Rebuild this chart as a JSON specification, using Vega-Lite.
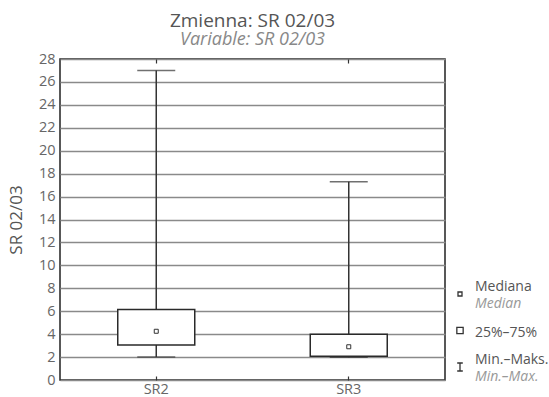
{
  "$schema": "https://vega.github.io/schema/vega-lite/v6.json",
  "padding": {"left": 6, "top": 11, "right": 0, "bottom": 0},
  "background": "white",
  "config": {"font": "Open Sans", "view": {"stroke": null}},
  "bounds": "flush",
  "spacing": 0,
  "datasets": {
    "stats": [
      {"group": "SR2", "min": 2.0, "q1": 3.05, "median": 4.25, "q3": 6.15, "max": 27.0},
      {"group": "SR3", "min": 1.98, "q1": 2.08, "median": 2.9, "q3": 4.0, "max": 17.3}
    ],
    "legend": [
      {"key": "median", "label": "Mediana", "sub": "Median"},
      {"key": "box", "label": "25%–75%", "sub": ""},
      {"key": "range", "label": "Min.–Maks.", "sub": "Min.–Max."}
    ]
  },
  "hconcat": [
    {
      "width": 385,
      "height": 321,
      "view": {"stroke": "#222", "strokeWidth": 1.5},
      "title": {
        "text": "Zmienna: SR 02/03",
        "subtitle": "Variable: SR 02/03",
        "anchor": "middle",
        "font": "Open Sans",
        "fontSize": 19,
        "fontWeight": "normal",
        "color": "#555",
        "subtitleFont": "Open Sans",
        "subtitleFontSize": 18,
        "subtitleFontStyle": "italic",
        "subtitleColor": "#888",
        "subtitlePadding": 0,
        "offset": 2
      },
      "data": {"name": "stats"},
      "resolve": {"axis": {"x": "independent"}},
      "layer": [
        {
          "mark": {"type": "rule", "stroke": "#333", "strokeWidth": 1.5},
          "encoding": {
            "x": {"field": "group", "type": "nominal", "scale": {"paddingInner": 0, "paddingOuter": 0}, "axis": {"orient": "bottom", "title": null, "labelAngle": 0, "labelFontSize": 14.5, "labelColor": "#666", "domain": false, "tickSize": -4, "tickColor": "#333", "tickWidth": 1.2, "labelPadding": 6}},
            "y": {"field": "min", "type": "quantitative", "scale": {"domain": [0, 28], "nice": false}, "axis": {"values": [0, 2, 4, 6, 8, 10, 12, 14, 16, 18, 20, 22, 24, 26, 28], "tickCount": 40, "format": "d", "labelOverlap": false, "title": "SR 02/03", "titleFontSize": 17, "titleFontWeight": "normal", "titleColor": "#555", "titlePadding": 13, "labelFontSize": 14.5, "labelColor": "#666", "labelPadding": 5, "ticks": false, "domain": false, "grid": true, "gridColor": "#8a8a8a", "gridWidth": 1.4}},
            "y2": {"field": "max"}
          }
        },
        {
          "mark": {"type": "tick", "size": 38, "thickness": 1.5, "color": "#333"},
          "encoding": {
            "x": {"field": "group", "type": "nominal", "axis": {"orient": "top", "title": null, "labels": false, "domain": false, "tickSize": -4, "tickColor": "#333", "tickWidth": 1.2}},
            "y": {"field": "min", "type": "quantitative"}
          }
        },
        {
          "mark": {"type": "tick", "size": 38, "thickness": 1.5, "color": "#333"},
          "encoding": {
            "x": {"field": "group", "type": "nominal", "axis": null},
            "y": {"field": "max", "type": "quantitative"}
          }
        },
        {
          "mark": {"type": "bar", "width": 77, "fill": "white", "stroke": "#2a2a2a", "strokeWidth": 1.5},
          "encoding": {
            "x": {"field": "group", "type": "nominal", "axis": null},
            "y": {"field": "q1", "type": "quantitative"},
            "y2": {"field": "q3"}
          }
        },
        {
          "mark": {"type": "point", "shape": "square", "size": 16, "filled": false, "fill": "white", "stroke": "#333", "strokeWidth": 1, "opacity": 1},
          "encoding": {
            "x": {"field": "group", "type": "nominal", "axis": null},
            "y": {"field": "median", "type": "quantitative"}
          }
        }
      ]
    },
    {
      "width": 30,
      "height": 321,
      "data": {"name": "legend"},
      "encoding": {
        "y": {"field": "key", "type": "nominal", "scale": {"type": "point", "domain": ["median", "box", "range"], "range": [235, 308], "padding": 0}, "axis": null}
      },
      "layer": [
        {
          "mark": {"type": "point", "filled": false, "fill": "white", "stroke": "#333", "strokeWidth": 1.3, "opacity": 1},
          "encoding": {
            "shape": {"field": "key", "type": "nominal", "scale": {"domain": ["median", "box", "range"], "range": ["square", "square", "M-0.7,-1H0.7M0,-1V1M-0.7,1H0.7"]}, "legend": null},
            "size": {"field": "key", "type": "ordinal", "scale": {"domain": ["median", "box", "range"], "range": [16, 64, 100]}, "legend": null}
          }
        },
        {
          "transform": [{"filter": "datum.sub != ''"}],
          "mark": {"type": "text", "align": "left", "baseline": "alphabetic", "dx": 15, "dy": -3, "fontSize": 14, "color": "#555"},
          "encoding": {"text": {"field": "label"}}
        },
        {
          "transform": [{"filter": "datum.sub == ''"}],
          "mark": {"type": "text", "align": "left", "baseline": "alphabetic", "dx": 15, "dy": 6, "fontSize": 14, "color": "#555"},
          "encoding": {"text": {"field": "label"}}
        },
        {
          "transform": [{"filter": "datum.sub != ''"}],
          "mark": {"type": "text", "align": "left", "baseline": "alphabetic", "dx": 15, "dy": 14, "fontSize": 14, "fontStyle": "italic", "color": "#999"},
          "encoding": {"text": {"field": "sub"}}
        }
      ]
    }
  ]
}
